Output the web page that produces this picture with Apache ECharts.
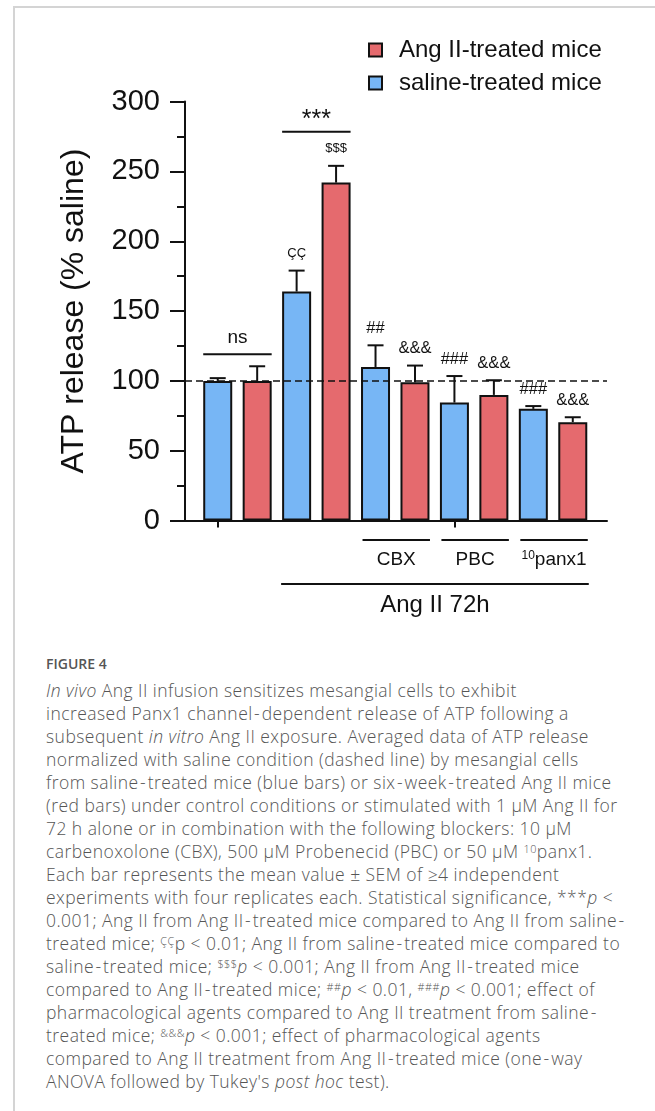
<!DOCTYPE html>
<html>
<head>
<meta charset="utf-8">
<script src="https://cdn.jsdelivr.net/npm/echarts@6/dist/echarts.min.js"></script>
<style>
  html, body { margin: 0; padding: 0; background: #fff; }
  body { width: 655px; height: 1111px; position: relative; overflow: hidden; }
  #frame {
    position: absolute; left: 13px; top: 6px; width: 700px; height: 1200px;
    border-top: 2px solid #d4d4d4; border-left: 2px solid #d4d4d4;
  }
  #chart { position: absolute; left: 0; top: 0; width: 655px; height: 640px; }
  #caption {
    position: absolute; left: 46px; top: 652px; width: 605px;
    font-family: "Open Sans", sans-serif; color: #555; font-size: 17.5px; font-weight: 300;
    letter-spacing: 0.45px; line-height: 23px; white-space: nowrap;
  }
  #caption .fig { font-size: 14px; font-weight: 600; color: #555; line-height: 24px;
    letter-spacing: 0; margin-bottom: 2.5px; }
  #caption sup { font-size: 0.62em; vertical-align: 0.5em; line-height: 0; }
  #caption .h { padding: 0 1.5px; }
</style>
</head>
<body>
<div id="frame"></div>
<div id="chart"></div>
<div id="caption">
  <div class="fig">FIGURE 4</div>
  <div><i>In vivo</i> Ang II infusion sensitizes mesangial cells to exhibit</div>
  <div>increased Panx1 channel<span class="h">-</span>dependent release of ATP following a</div>
  <div>subsequent <i>in vitro</i> Ang II exposure. Averaged data of ATP release</div>
  <div>normalized with saline condition (dashed line) by mesangial cells</div>
  <div>from saline<span class="h">-</span>treated mice (blue bars) or six<span class="h">-</span>week<span class="h">-</span>treated Ang II mice</div>
  <div>(red bars) under control conditions or stimulated with 1 μM Ang II for</div>
  <div>72 h alone or in combination with the following blockers: 10 μM</div>
  <div>carbenoxolone (CBX), 500 μM Probenecid (PBC) or 50 μM <sup>10</sup>panx1.</div>
  <div>Each bar represents the mean value ± SEM of ≥4 independent</div>
  <div>experiments with four replicates each. Statistical significance, ***<i>p</i> &lt;</div>
  <div>0.001; Ang II from Ang II<span class="h">-</span>treated mice compared to Ang II from saline<span class="h">-</span></div>
  <div>treated mice; <sup>ÇÇ</sup>p &lt; 0.01; Ang II from saline<span class="h">-</span>treated mice compared to</div>
  <div>saline<span class="h">-</span>treated mice; <sup>$$$</sup><i>p</i> &lt; 0.001; Ang II from Ang II<span class="h">-</span>treated mice</div>
  <div>compared to Ang II<span class="h">-</span>treated mice; <sup>##</sup><i>p</i> &lt; 0.01, <sup>###</sup><i>p</i> &lt; 0.001; effect of</div>
  <div>pharmacological agents compared to Ang II treatment from saline<span class="h">-</span></div>
  <div>treated mice; <sup>&amp;&amp;&amp;</sup><i>p</i> &lt; 0.001; effect of pharmacological agents</div>
  <div>compared to Ang II treatment from Ang II<span class="h">-</span>treated mice (one<span class="h">-</span>way</div>
  <div>ANOVA followed by Tukey's <i>post hoc</i> test).</div>
</div>
<script>
// Treatment groups (each has a saline-mouse bar followed by an Ang II-mouse bar)
const groups = ['Control', 'Ang II', 'Ang II + CBX', 'Ang II + PBC', 'Ang II + 10panx1'];
// ATP release, % of saline control: mean and SEM
const salineMean = [100, 164, 110, 84.5, 80];
const salineSem  = [2, 15, 15.5, 19, 2];
const angMean    = [100, 242, 99, 90, 70.5];
const angSem     = [10.5, 12, 12, 10.5, 3.5];
// Significance marks printed above each bar
const salineMarks = ['', 'ÇÇ', '##', '###', '###'];
const angMarks    = ['', '$$$', '&&&', '&&&', '&&&'];
// Y axis ticks
const yTicks = [0, 50, 100, 150, 200, 250, 300];
// Reference level (saline condition)
const refLevel = 100;
// Blocker labels under the axis: [first bar, last bar, label]
const blockerLabels = [[4, 5, 'CBX'], [6, 7, 'PBC'], [8, 9, '{sup|10}{n|panx1}']];
const treatmentLabels = [[2, 9, 'Ang II 72h']];
// Pairwise comparison brackets: [first bar, last bar, label]
const brackets = [[0, 1, 'ns'], [2, 3, '***']];

const BLUE = '#77B6F5';
const RED = '#E56A6E';
const INK = '#111';
const FONT = 'Liberation Sans, Arial, sans-serif';

// Category slots: saline, Ang II alternating per group
const categories = [];
groups.forEach(g => { categories.push(g + ' (saline mice)'); categories.push(g + ' (Ang II mice)'); });
const salineBars = [], angBars = [], errData = [];
const smallMark = m => m === 'ÇÇ' || m === '$$$';
groups.forEach((g, i) => {
  salineBars.push(salineMean[i], '-');
  angBars.push('-', angMean[i]);
  errData.push([2 * i, salineMean[i], salineSem[i], salineMarks[i], smallMark(salineMarks[i]) ? 13 : 16.5]);
  errData.push([2 * i + 1, angMean[i], angSem[i], angMarks[i], smallMark(angMarks[i]) ? 13 : 16.5]);
});
function capTop(idx) {
  const g = Math.floor(idx / 2);
  return idx % 2 === 0 ? salineMean[g] + salineSem[g] : angMean[g] + angSem[g];
}
function markOf(idx) {
  const g = Math.floor(idx / 2);
  return idx % 2 === 0 ? salineMarks[g] : angMarks[g];
}

const chart = echarts.init(document.getElementById('chart'), null, { renderer: 'canvas' });
const HALF_BAR = 14.5;

chart.setOption({
  animation: false,
  textStyle: { fontFamily: FONT, color: INK },
  legend: {
    orient: 'vertical', left: 368, top: 37, padding: 0,
    icon: 'rect', itemWidth: 13, itemHeight: 13, itemGap: 7,
    data: ['Ang II-treated mice', 'saline-treated mice'],
    textStyle: { fontSize: 24, lineHeight: 26, color: INK, fontFamily: FONT, padding: [0, 0, 0, 12] }
  },
  grid: [
    { left: 185, top: 101.6, width: 422, height: 419 },
    { left: 198, top: 101.6, width: 394.5, height: 419 }
  ],
  xAxis: [
    { gridIndex: 0, type: 'value', min: 0, max: 1,
      axisLine: { show: true, lineStyle: { color: INK, width: 2 } },
      axisTick: { show: false }, axisLabel: { show: false }, splitLine: { show: false } },
    { gridIndex: 1, type: 'category', data: categories,
      axisLine: { show: false },
      axisTick: { show: true, alignWithLabel: true, length: 7, lineStyle: { color: INK, width: 2 } },
      axisLabel: { show: false }, splitLine: { show: false } }
  ],
  yAxis: [
    { gridIndex: 0, type: 'value', min: yTicks[0], max: yTicks[yTicks.length - 1], interval: 50,
      name: 'ATP release (% saline)', nameLocation: 'middle', nameGap: 95,
      nameTextStyle: { fontSize: 32, color: INK, fontFamily: FONT },
      axisLine: { show: true, lineStyle: { color: INK, width: 2 } },
      axisTick: { show: true, length: 15, lineStyle: { color: INK, width: 2 } },
      minorTick: { show: true, splitNumber: 2, length: 8, lineStyle: { color: INK, width: 2 } },
      axisLabel: { fontSize: 29, color: INK, margin: 25, fontFamily: FONT },
      splitLine: { show: false } },
    { gridIndex: 1, type: 'value', min: yTicks[0], max: yTicks[yTicks.length - 1], show: false }
  ],
  series: [
    {
      name: 'Ang II-treated mice', type: 'bar', xAxisIndex: 1, yAxisIndex: 1,
      data: angBars, barWidth: 29, barGap: '-100%',
      itemStyle: { color: RED, borderColor: INK, borderWidth: 2 }, z: 2
    },
    {
      name: 'saline-treated mice', type: 'bar', xAxisIndex: 1, yAxisIndex: 1,
      data: salineBars, barWidth: 29, barGap: '-100%',
      itemStyle: { color: BLUE, borderColor: INK, borderWidth: 2 }, z: 2
    },
    {
      // dashed saline reference line across the plot
      type: 'line', xAxisIndex: 0, yAxisIndex: 0, silent: true,
      data: [[0, refLevel], [1, refLevel]], symbol: 'none',
      lineStyle: { color: INK, width: 1.6, type: [7, 4] }, z: 4
    },
    {
      // SEM error bars (upper) with significance marks
      type: 'custom', xAxisIndex: 1, yAxisIndex: 1, clip: false, z: 5, silent: true,
      data: errData,
      renderItem: function (params, api) {
        const x = api.value(0);
        const base = api.coord([x, api.value(1)]);
        const top = api.coord([x, api.value(1) + api.value(2)]);
        const mark = errData[params.dataIndex][3];
        const fs = errData[params.dataIndex][4];
        const children = [
          { type: 'line', shape: { x1: base[0], y1: base[1], x2: top[0], y2: top[1] },
            style: { stroke: INK, lineWidth: 2 } },
          { type: 'line', shape: { x1: top[0] - 8, y1: top[1], x2: top[0] + 8, y2: top[1] },
            style: { stroke: INK, lineWidth: 2 } }
        ];
        if (mark) {
          children.push({ type: 'text', style: {
            text: mark, x: top[0], y: top[1] - 17, textAlign: 'center', textVerticalAlign: 'middle',
            fontSize: fs, fontFamily: FONT, fill: INK } });
        }
        return { type: 'group', children: children };
      }
    },
    {
      // comparison brackets above bar pairs
      type: 'custom', xAxisIndex: 1, yAxisIndex: 1, clip: false, z: 5, silent: true,
      data: brackets.map(b => [b[0], b[1]]),
      renderItem: function (params, api) {
        const b = brackets[params.dataIndex];
        const a = api.coord([b[0], capTop(b[0])]);
        const c = api.coord([b[1], capTop(b[1])]);
        const hasMark = markOf(b[0]) || markOf(b[1]);
        const y = Math.min(a[1], c[1]) - (hasMark ? 34 : 12);
        const isStars = b[2] === '***';
        return { type: 'group', children: [
          { type: 'line', shape: { x1: a[0] - HALF_BAR, y1: y, x2: c[0] + HALF_BAR, y2: y },
            style: { stroke: INK, lineWidth: 2 } },
          { type: 'text', style: {
            text: b[2], x: (a[0] + c[0]) / 2, y: y - (isStars ? 12 : 17),
            textAlign: 'center', textVerticalAlign: 'middle',
            fontSize: isStars ? 25 : 19, fontFamily: FONT, fill: INK } }
        ] };
      }
    },
    {
      // treatment grouping lines and labels below the axis
      type: 'custom', xAxisIndex: 1, yAxisIndex: 1, clip: false, z: 5, silent: true,
      data: blockerLabels.map(b => [b[0], b[1], 0]).concat(treatmentLabels.map(b => [b[0], b[1], 1])),
      renderItem: function (params, api) {
        const row = api.value(2);
        const list = row === 0 ? blockerLabels : treatmentLabels;
        const item = list[row === 0 ? params.dataIndex : params.dataIndex - blockerLabels.length];
        const a = api.coord([item[0], 0]);
        const c = api.coord([item[1], 0]);
        const lineY = a[1] + (row === 0 ? 19.5 : 63.5);
        const textY = a[1] + (row === 0 ? 39 : 85);
        const x1 = a[0] - (row === 0 ? 13 : 15.5);
        const x2 = c[0] + (row === 0 ? 15 : 16);
        return { type: 'group', children: [
          { type: 'line', shape: { x1: x1, y1: lineY, x2: x2, y2: lineY },
            style: { stroke: INK, lineWidth: 2 } },
          { type: 'text', style: {
            text: item[2], x: (x1 + x2) / 2, y: textY, textAlign: 'center', textVerticalAlign: 'middle',
            fontSize: row === 0 ? 19 : 24, fontFamily: FONT, fill: INK,
            rich: {
              sup: { fontSize: 12, fontFamily: FONT, fill: INK, verticalAlign: 'top', padding: [0, 0, 8, 0] },
              n: { fontSize: 19, fontFamily: FONT, fill: INK }
            } } }
        ] };
      }
    }
  ]
});
</script>
</body>
</html>
